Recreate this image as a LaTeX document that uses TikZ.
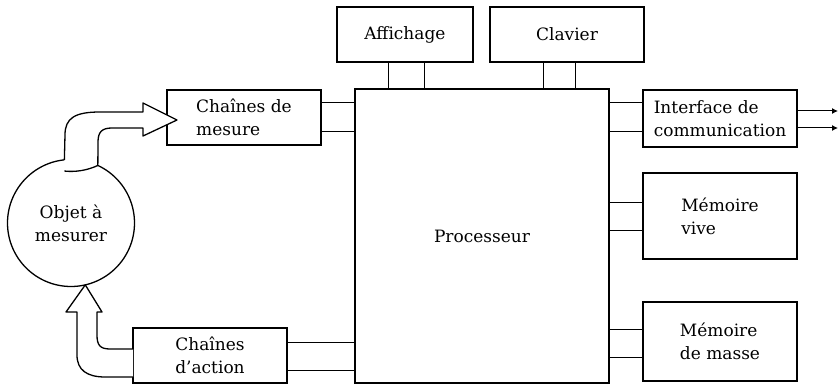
\documentclass[tikz,border=0pt]{standalone}
\usepackage{fontspec}
\setmainfont{DejaVu Serif}
\usetikzlibrary{arrows.meta}

\begin{document}
\begin{tikzpicture}[x=1pt,y=-1pt,
    box/.style={draw,line width=1.2pt,fill=white,align=left,inner sep=0pt,
        outer sep=0pt,font=\fontsize{17}{23}\selectfont},
    link/.style={line width=1pt},
    fat/.style={draw,line width=1.3pt,fill=white,line join=round},
    extlink/.style={line width=1pt,-{Latex[length=6pt,width=6pt]}}
]
    \useasboundingbox (0,0) rectangle (839,385);

    \node[box,line width=1.8pt,minimum width=254pt,minimum height=294pt] (proc) at (482,236) {Processeur};
    \node[box,minimum width=136pt,minimum height=55pt] (affich) at (405,34.5) {Affichage};
    \node[box,minimum width=154pt,minimum height=55pt] (clavier) at (567,34.5) {Clavier};
    \node[box,minimum width=154pt,minimum height=55pt] (mesure) at (244,117.5) {Chaînes de\\mesure};
    \node[box,minimum width=154pt,minimum height=55pt] (action) at (210,355.5) {Chaînes\\d'action};
    \node[box,minimum width=154pt,minimum height=57pt] (iface) at (720,118.5) {Interface de\\communication};
    \node[box,minimum width=154pt,minimum height=86pt] (vive) at (720,216) {Mémoire\\vive};
    \node[box,minimum width=154pt,minimum height=79pt] (masse) at (720,341.5) {Mémoire\\de masse};
    \node[box,circle,align=center,line width=1.3pt,minimum size=127pt] (obj) at (71,223) {Objet à\\mesurer};
    \coordinate (ext) at (838,0);

    % bus links
    \foreach \x in {388,424} \draw[link] (\x,0 |- affich.south) -- (\x,0 |- proc.north);
    \foreach \x in {543,575} \draw[link] (\x,0 |- clavier.south) -- (\x,0 |- proc.north);
    \foreach \y in {103,132} \draw[link] (mesure.east |- 0,\y) -- (proc.west |- 0,\y);
    \foreach \y in {342,370} \draw[link] (action.east |- 0,\y) -- (proc.west |- 0,\y);
    \foreach \y in {103,132} \draw[link] (proc.east |- 0,\y) -- (iface.west |- 0,\y);
    \foreach \y in {203,231} \draw[link] (proc.east |- 0,\y) -- (vive.west |- 0,\y);
    \foreach \y in {329,357} \draw[link] (proc.east |- 0,\y) -- (masse.west |- 0,\y);
    \foreach \y in {111,128} \draw[extlink] (iface.east |- 0,\y) -- (ext |- 0,\y);

    % fat arrows
    \draw[fat] (obj.96) -- (65,135) .. controls (65,118) and (75,112) .. (100,112)
        -- (143,112) -- (143,103) -- (177,120) -- (143,136) -- (143,128) -- (112,128)
        .. controls (102,128) and (98,132) .. (98,142) -- (obj.65)
        arc[start angle=-65,end angle=-96,radius=63.5pt];
    \draw[fat] (action.west |- 0,349) -- (110,349) .. controls (100,349) and (97,345) .. (97,335)
        -- (97,312) -- (102,312) -- (obj.-77) -- (66,312) -- (77,312) -- (77,355)
        .. controls (77,370) and (87,377) .. (105,377) -- (action.west |- 0,377);
\end{tikzpicture}
\end{document}
